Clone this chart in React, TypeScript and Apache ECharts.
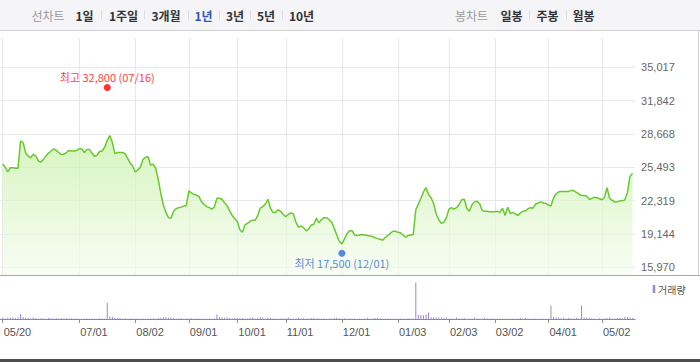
import React, { useEffect, useRef } from 'react';
import * as echarts from 'echarts';

// ---------- data ----------
const monthLabels: string[] = ['05', '06', '07', '08', '09', '10', '11', '12', '01', '02', '03', '04', '05'];
const tradingDaysByMonth: number[][] = [
  [20, 21, 24, 25, 26, 27, 28, 31],
  [1, 2, 3, 4, 7, 8, 9, 10, 11, 14, 15, 16, 17, 18, 21, 22, 23, 24, 25, 28, 29, 30],
  [1, 2, 5, 6, 7, 8, 9, 12, 13, 14, 15, 16, 19, 20, 21, 22, 23, 26, 27, 28, 29, 30],
  [2, 3, 4, 5, 6, 9, 10, 11, 12, 13, 17, 18, 19, 20, 23, 24, 25, 26, 27, 30, 31],
  [1, 2, 3, 6, 7, 8, 9, 10, 13, 14, 15, 16, 17, 23, 24, 27, 28, 29, 30],
  [1, 5, 6, 7, 8, 12, 13, 14, 15, 18, 19, 20, 21, 22, 25, 26, 27, 28, 29],
  [1, 2, 3, 4, 5, 8, 9, 10, 11, 12, 15, 16, 17, 18, 19, 22, 23, 24, 25, 26, 29, 30],
  [1, 2, 3, 6, 7, 8, 9, 10, 13, 14, 15, 16, 17, 20, 21, 22, 23, 24, 27, 28, 29, 30],
  [3, 4, 5, 6, 7, 10, 11, 12, 13, 14, 17, 18, 19, 20, 21, 24, 25, 26, 27, 28],
  [3, 4, 7, 8, 9, 10, 11, 14, 15, 16, 17, 18, 21, 22, 23, 24, 25, 28],
  [2, 3, 4, 7, 8, 10, 11, 14, 15, 16, 17, 18, 21, 22, 23, 24, 25, 28, 29, 30, 31],
  [1, 4, 5, 6, 7, 8, 11, 12, 13, 14, 15, 18, 19, 20, 21, 22, 25, 26, 27, 28, 29],
  [2, 3, 4, 6, 9, 10, 11, 12, 13, 16, 17, 18, 19],
];

const closePrices: number[] = [
  25800, 25500, 25050, 25450, 25450, 25400, 25400, 28000, 27850, 26850,
  26550, 26400, 26750, 26550, 26100, 26000, 26250, 26600, 26850, 27050,
  27250, 27100, 26900, 26700, 26750, 26900, 27100, 27050, 27050, 27100,
  27250, 27250, 26900, 27200, 27200, 26850, 26550, 26650, 27000, 27050,
  27400, 28050, 28500, 27850, 26800, 26900, 26900, 26900, 26800, 26350,
  25900, 25600, 25050, 25250, 25500, 26250, 26450, 26500, 25700, 25800,
  25400, 24350, 23000, 21900, 21200, 20700, 20650, 21300, 21550, 21650,
  21700, 21800, 21850, 23250, 23050, 22900, 22850, 22700, 22200, 21950,
  21750, 21650, 21500, 21700, 22550, 22550, 22450, 22100, 21850, 21350,
  20900, 20600, 20350, 19550, 19300, 20000, 20150, 20350, 20450, 20450,
  20900, 21600, 21750, 22000, 22450, 21600, 21200, 21200, 21450, 21300,
  21000, 20800, 21000, 21150, 21050, 20250, 19800, 19900, 19750, 19450,
  19600, 20000, 20050, 20650, 20200, 20500, 20700, 20700, 20500, 20250,
  19700, 19050, 18450, 18200, 18650, 19150, 19450, 19450, 19050, 19000,
  19050, 19100, 19050, 19000, 18950, 18900, 18800, 18700, 18650, 18550,
  18800, 19000, 19200, 19400, 19400, 19300, 19250, 19050, 18850, 19000,
  19050, 19100, 21450, 22000, 22550, 23150, 23550, 22900, 22600, 22050,
  21050, 20500, 20150, 20250, 20700, 21500, 21650, 21500, 21650, 21950,
  22400, 22450, 21600, 21300, 21900, 22200, 22250, 22050, 21400, 21300,
  21300, 21250, 21250, 21250, 21300, 21200, 21600, 20900, 21700, 21100,
  21200, 21050, 20900, 21150, 21300, 21350, 21550, 21650, 21600, 22000,
  22100, 22200, 22100, 22050, 21900, 21800, 22550, 22950, 23150, 23200,
  23200, 23200, 23200, 23300, 23250, 23100, 22950, 22800, 22800, 22750,
  22450, 22500, 22650, 22600, 22500, 22400, 22650, 23550, 22550, 22350,
  22200, 22200, 22300, 22300, 22400, 23100, 24650, 24900,
];

// volume, thousand shares
const volumes: number[] = [
  150, 60, 120, 130, 180, 110, 140, 500, 200, 120,
  90, 60, 140, 100, 40, 80, 60, 50, 90, 70,
  60, 90, 60, 80, 50, 70, 60, 80, 60, 40,
  30, 20, 50, 70, 30, 60, 50, 20, 80, 60,
  40, 1630, 250, 220, 120, 100, 90, 60, 80, 30,
  70, 50, 30, 60, 20, 40, 30, 60, 80, 50,
  30, 100, 120, 150, 170, 130, 140, 100, 60, 40,
  90, 30, 60, 40, 80, 30, 60, 40, 20, 30,
  60, 40, 30, 60, 450, 180, 160, 120, 140, 100,
  60, 90, 120, 80, 100, 60, 50, 90, 140, 60,
  100, 180, 120, 60, 150, 90, 60, 40, 30, 60,
  50, 70, 140, 60, 50, 40, 120, 60, 80, 40,
  50, 90, 100, 40, 70, 60, 80, 30, 60, 50,
  90, 120, 60, 40, 80, 30, 50, 40, 60, 30,
  40, 20, 50, 120, 60, 30, 110, 130, 60, 50,
  30, 40, 60, 30, 40, 20, 60, 40, 30, 80,
  50, 60, 3660, 420, 400, 380, 450, 650, 150, 180,
  160, 170, 140, 90, 160, 60, 50, 30, 140, 60,
  40, 90, 30, 50, 60, 140, 40, 30, 60, 120,
  50, 40, 60, 30, 50, 40, 60, 30, 40, 20,
  50, 30, 60, 120, 60, 130, 40, 30, 60, 40,
  30, 50, 20, 40, 60, 1360, 200, 160, 140, 70,
  150, 60, 130, 50, 40, 90, 60, 1360, 160, 140,
  100, 50, 60, 30, 80, 50, 60, 100, 140, 60,
  40, 90, 120, 60, 230, 180, 150, 90,
];

const priceTickLabels: string[] = ['15,970', '19,144', '22,319', '25,493', '28,668', '31,842', '35,017'];
const priceTickMin = 15970;
const priceTickMax = 35017;
const tickDates: string[] = ['05/20', '07/01', '08/02', '09/01', '10/01', '11/01', '12/01', '01/03', '02/03', '03/02', '04/01', '05/02'];

const highPoint = { date: '07/16', value: 32800, label: '최고' };
const lowPoint = { date: '12/01', value: 17500, label: '최저' };

const periodButtons: string[] = ['1일', '1주일', '3개월', '1년', '3년', '5년', '10년'];
const periodCenters: number[] = [84.5, 123.5, 166, 203.5, 235, 266, 301.5];
const periodSeps: number[] = [101, 144, 188, 219, 250, 282];
const selectedPeriod = '1년';
const candleButtons: string[] = ['일봉', '주봉', '월봉'];
const candleCenters: number[] = [511.5, 547.5, 583.5];
const candleSeps: number[] = [529, 566];

// ---------- layout ----------
const W = 700;
const H = 362;
const PLOT_LEFT = 0.15;
const PLOT_RIGHT_EDGE = 635.1;
const PRICE_TOP = 38;
const PRICE_BOTTOM = 275;
const TICK_TOP_Y = 67.3;
const TICK_BOTTOM_Y = 267.3;
const VOL_TOP = 276;
const VOL_BOTTOM = 319;
const VOL_MAX = 4300;

const KR = '"Noto Sans CJK KR", "Noto Sans", sans-serif';
const NUM = '"Liberation Sans", Arial, sans-serif';

export default function App() {
  const ref = useRef<HTMLDivElement>(null);

  useEffect(() => {
    if (!ref.current) return;
    const chart = echarts.init(ref.current, undefined, { renderer: 'svg' });

    const dates: string[] = [];
    tradingDaysByMonth.forEach((days, m) => {
      days.forEach((d) => dates.push(`${monthLabels[m]}/${String(d).padStart(2, '0')}`));
    });
    const cats = ['pad-start', ...dates, 'pad-end'];
    const priceData = [null, ...closePrices, null];
    const volData = [null, ...volumes, null];
    const isTick = (_i: number, v: string) => tickDates.includes(v);

    const valPerPx = (priceTickMax - priceTickMin) / (TICK_BOTTOM_Y - TICK_TOP_Y);
    const dataMin = priceTickMin - (PRICE_BOTTOM - TICK_BOTTOM_Y) * valPerPx;
    const dataMax = priceTickMax + (TICK_TOP_Y - PRICE_TOP) * valPerPx;

    const fmt = (n: number) => n.toLocaleString('en-US');
    const rightGap = W - PLOT_RIGHT_EDGE;

    const graphics: any[] = [
      { type: 'rect', shape: { x: 0, y: 0, width: W, height: 30 }, style: { fill: '#f5f5f7' }, z: -10 },
      { type: 'line', shape: { x1: 0, y1: 30.5, x2: W, y2: 30.5 }, style: { stroke: '#d3d3d3', lineWidth: 1 } },
      { type: 'line', shape: { x1: 698.5, y1: 30, x2: 698.5, y2: 276 }, style: { stroke: '#d3d3d3', lineWidth: 1 } },
      { type: 'line', shape: { x1: 0, y1: 275.5, x2: W, y2: 275.5 }, style: { stroke: '#a9a9a9', lineWidth: 1 }, z: 10 },
      { type: 'rect', shape: { x: 0, y: 359, width: W, height: 3 }, style: { fill: '#4d4d4d' } },
      { type: 'text', x: 48, y: 15, style: { text: '선차트', font: `12px ${KR}`, fill: '#999999', align: 'center', verticalAlign: 'middle' } },
      { type: 'text', x: 471.5, y: 15, style: { text: '봉차트', font: `12px ${KR}`, fill: '#999999', align: 'center', verticalAlign: 'middle' } },
      // legend
      { type: 'rect', shape: { x: 652.7, y: 285, width: 2.6, height: 8 }, style: { fill: '#9b8bcb' } },
      { type: 'text', x: 658, y: 289, style: { text: '거래량', font: `10px ${KR}`, fill: '#555555', align: 'left', verticalAlign: 'middle' } },
    ];
    periodButtons.forEach((t, i) => {
      graphics.push({
        type: 'text', x: periodCenters[i], y: 15,
        style: { text: t, font: `bold 12px ${KR}`, fill: t === selectedPeriod ? '#2f55bd' : '#333333', align: 'center', verticalAlign: 'middle' },
      });
    });
    candleButtons.forEach((t, i) => {
      graphics.push({
        type: 'text', x: candleCenters[i], y: 15,
        style: { text: t, font: `bold 12px ${KR}`, fill: '#333333', align: 'center', verticalAlign: 'middle' },
      });
    });
    [...periodSeps, ...candleSeps].forEach((x) => {
      graphics.push({ type: 'line', shape: { x1: x + 0.5, y1: 10.5, x2: x + 0.5, y2: 19.5 }, style: { stroke: '#dddddd', lineWidth: 1 } });
    });

    chart.setOption({
      animation: false,
      textStyle: { fontFamily: NUM },
      grid: [
        { left: PLOT_LEFT, right: rightGap, top: PRICE_TOP, height: PRICE_BOTTOM - PRICE_TOP },
        { left: PLOT_LEFT, right: rightGap, top: VOL_TOP, height: VOL_BOTTOM - VOL_TOP },
        { left: PLOT_LEFT, right: rightGap, top: TICK_TOP_Y, height: TICK_BOTTOM_Y - TICK_TOP_Y },
      ],
      xAxis: [
        {
          type: 'category', gridIndex: 0, data: cats, boundaryGap: false,
          axisLine: { show: false }, axisTick: { show: false }, axisLabel: { show: false },
          splitLine: { show: true, interval: isTick, lineStyle: { color: '#e8e8e8', width: 1 } },
        },
        {
          type: 'category', gridIndex: 1, data: cats, boundaryGap: false,
          axisLine: { show: true, lineStyle: { color: '#8c8c8c', width: 1 } },
          axisTick: { show: true, interval: isTick, length: 4, lineStyle: { color: '#8c8c8c' } },
          axisLabel: { show: true, interval: isTick, align: 'left', margin: 7, color: '#555555', fontSize: 11, fontFamily: NUM, padding: [0, 0, 0, 1] },
          splitLine: { show: false },
        },
        {
          type: 'category', gridIndex: 2, data: cats, boundaryGap: false, show: false,
          splitLine: { show: false },
        },
      ],
      yAxis: [
        { type: 'value', gridIndex: 0, min: dataMin, max: dataMax, show: false, splitLine: { show: false } },
        { type: 'value', gridIndex: 1, min: 0, max: VOL_MAX, show: false, splitLine: { show: false } },
        {
          type: 'value', gridIndex: 2, position: 'right', min: 0, max: priceTickLabels.length - 1, interval: 1,
          axisLine: { show: false }, axisTick: { show: false },
          axisLabel: {
            show: true, margin: 6, color: '#666666', fontSize: 11, fontFamily: NUM,
            formatter: (v: number) => priceTickLabels[Math.round(v)] ?? '',
          },
          splitLine: { show: true, lineStyle: { color: '#e8e8e8', width: 1 } },
        },
      ],
      series: [
        {
          type: 'line', xAxisIndex: 0, yAxisIndex: 0, data: priceData, symbol: 'none', connectNulls: false,
          lineStyle: { color: '#66c92e', width: 1.5 },
          areaStyle: {
            origin: 'start',
            color: new echarts.graphic.LinearGradient(0, 0, 0, 1, [
              { offset: 0, color: '#c6f1a4' },
              { offset: 1, color: '#f4fcef' },
            ]),
          },
          z: 3,
        },
        {
          type: 'scatter', xAxisIndex: 0, yAxisIndex: 0, symbolSize: 7, z: 5,
          data: [
            {
              value: [highPoint.date, highPoint.value], symbolOffset: [0, -3],
              itemStyle: { color: '#ff0000' },
              label: { show: true, position: 'top', distance: 2, color: '#ff0000', fontSize: 11, fontFamily: KR, formatter: `${highPoint.label} ${fmt(highPoint.value)} (${highPoint.date})` },
            },
            {
              value: [lowPoint.date, lowPoint.value], symbolOffset: [0, 2],
              itemStyle: { color: '#2b6cd4' },
              label: { show: true, position: 'bottom', distance: 1, color: '#2b6cd4', fontSize: 11, fontFamily: KR, formatter: `${lowPoint.label} ${fmt(lowPoint.value)} (${lowPoint.date})` },
            },
          ],
        },
        {
          type: 'bar', xAxisIndex: 1, yAxisIndex: 1, data: volData, barWidth: 1,
          itemStyle: { color: '#9b8bcb' },
        },
      ],
      graphic: graphics,
    });

    return () => chart.dispose();
  }, []);

  return <div ref={ref} style={{ position: 'absolute', left: 0, top: 0, width: W, height: H, background: '#ffffff' }} />;
}
